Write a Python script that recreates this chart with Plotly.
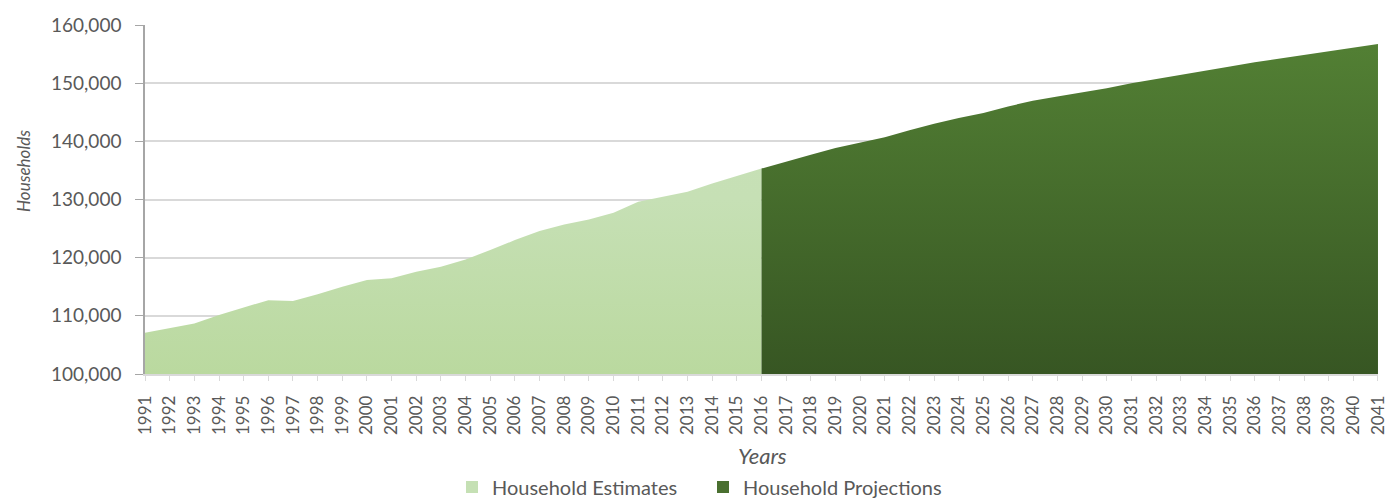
import plotly.graph_objects as go

est_years = list(range(1991, 2017))
est_values = [107100, 107850, 108700, 110140, 111460, 112700, 112540, 113690, 115000, 116150,
              116440, 117580, 118450, 119700, 121300, 123020, 124570, 125700, 126580, 127720,
              129620, 130480, 131340, 132770, 134020, 135320]

proj_years = list(range(2016, 2042))
proj_values = [135320, 136570, 137710, 138860, 139830, 140690, 141890, 143030, 144000, 144860,
               146000, 146970, 147710, 148400, 149140, 150000, 150690, 151430, 152170, 152860,
               153600, 154230, 154860, 155430, 156170, 156740]

tick_years = list(range(1991, 2042))
y_ticks = [100000, 110000, 120000, 130000, 140000, 150000, 160000]

FONT = "Lato"
TXT = "#595959"
EST_COLOR = "#c5e0b4"
PROJ_COLOR = "#4a7030"

L, R, T, B = 145, 11, 25, 126
PW = 1389 - L - R
PH = 500 - T - B

fig = go.Figure()
fig.add_trace(go.Scatter(
    x=est_years, y=est_values, name="Household Estimates",
    mode="lines", line=dict(width=0, color=EST_COLOR),
    fill="tozeroy",
    fillgradient=dict(type="vertical", start=100000, stop=160000,
                      colorscale=[[0, "#bad99f"], [0.5, "#c6e0b5"], [1, "#c8e1b8"]]),
    fillcolor=EST_COLOR, showlegend=False,
))
fig.add_trace(go.Scatter(
    x=proj_years, y=proj_values, name="Household Projections",
    mode="lines", line=dict(width=0, color=PROJ_COLOR),
    fill="tozeroy",
    fillgradient=dict(type="vertical", start=100000, stop=160000,
                      colorscale=[[0, "#375623"], [1, "#548235"]]),
    fillcolor=PROJ_COLOR, showlegend=False,
))
# legend entries with square markers
fig.add_trace(go.Scatter(x=[None], y=[None], mode="markers", name="Household Estimates",
                         marker=dict(symbol="square", size=15, color=EST_COLOR)))
fig.add_trace(go.Scatter(x=[None], y=[None], mode="markers", name="Household Projections",
                         marker=dict(symbol="square", size=15, color=PROJ_COLOR)))

fig.update_layout(
    width=1389, height=500,
    margin=dict(l=L, r=R, t=T, b=B, autoexpand=False),
    paper_bgcolor="white", plot_bgcolor="white",
    font=dict(family=FONT, color=TXT),
    showlegend=True,
    legend=dict(orientation="h", x=(703 - L) / PW, xanchor="center",
                y=(374 - 487) / PH, yanchor="middle",
                font=dict(size=20, color=TXT, family=FONT),
                traceorder="normal", itemsizing="constant", itemwidth=30,
                entrywidth=206, tracegroupgap=0),
    annotations=[
        dict(text="<i>Years</i>", xref="paper", yref="paper",
             x=(762 - L) / PW, y=(374 - 455) / PH,
             xanchor="center", yanchor="middle", showarrow=False,
             font=dict(size=22, color=TXT, family=FONT)),
        dict(text="<i>Households</i>", xref="paper", yref="paper",
             x=(23 - L) / PW, y=(374 - 171) / PH,
             xanchor="center", yanchor="middle", showarrow=False, textangle=-90,
             font=dict(size=17, color=TXT, family=FONT)),
    ],
)
fig.update_xaxes(
    range=[1990.999, 2041.001], tickmode="array", tickvals=tick_years,
    ticktext=[str(y) for y in tick_years], tickangle=-90,
    tickfont=dict(size=17, color=TXT, family=FONT),
    ticks="outside", ticklen=5, tickcolor="#d9d9d9", ticklabelstandoff=8,
    ticklabeloverflow="allow",
    showline=True, linecolor="#d9d9d9", linewidth=1.5,
    showgrid=False, zeroline=False, automargin=False,
)
fig.update_yaxes(
    range=[100000, 160000], tickmode="array", tickvals=y_ticks,
    tickformat=",", tickfont=dict(size=19, color=TXT, family=FONT),
    ticks="outside", ticklen=8, tickcolor="#a6a6a6", ticklabelstandoff=10,
    showline=True, linecolor="#a6a6a6", linewidth=1.5,
    showgrid=True, gridcolor="#d9d9d9", gridwidth=1.5, zeroline=False, automargin=False,
)

fig.write_html("out.html")
